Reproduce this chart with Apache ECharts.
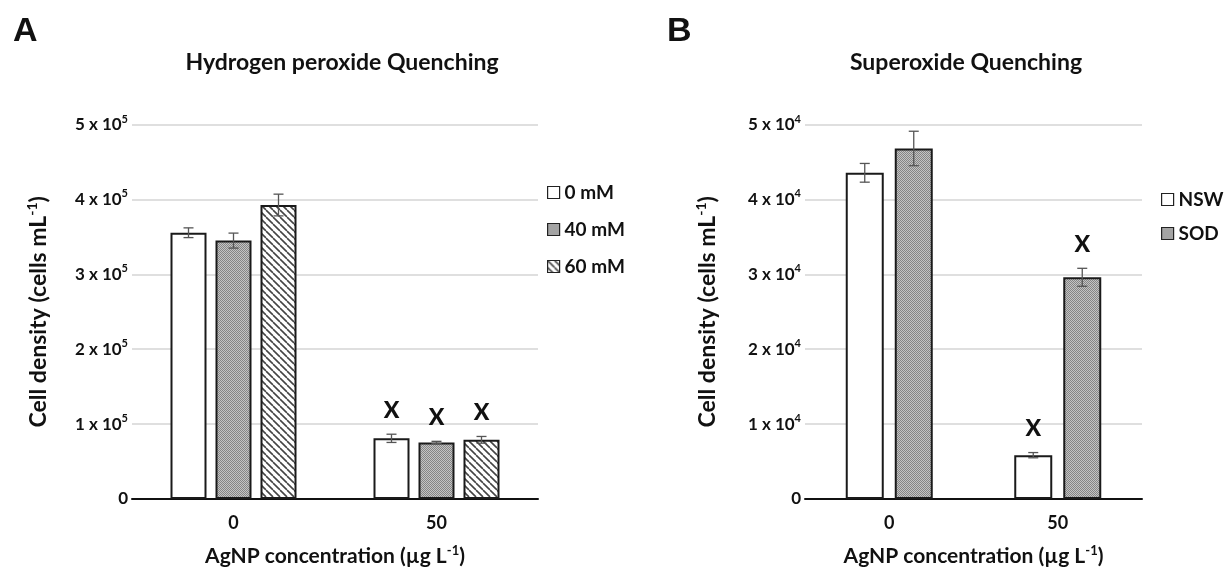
<!DOCTYPE html>
<html><head><meta charset="utf-8">
<script src="https://cdn.jsdelivr.net/npm/echarts@6/dist/echarts.min.js"></script>
<style>html,body{margin:0;padding:0;background:#fff}#c{width:1228px;height:577px}</style>
</head><body><div id="c"></div>
<script>
// ---- Data ----
const categories = ['0', '50'];
// Panel A: hydrogen peroxide quenching (cells mL-1)
const seriesA = ['0 mM', '40 mM', '60 mM'];
const h2o2_0mM = [3.555e5, 0.81e5];
const h2o2_40mM = [3.45e5, 0.755e5];
const h2o2_60mM = [3.925e5, 0.79e5];
const h2o2_0mM_err = [0.065e5, 0.055e5];
const h2o2_40mM_err = [0.10e5, 0.015e5];
const h2o2_60mM_err = [0.145e5, 0.045e5];
const h2o2_0mM_sig = ['', 'X'];
const h2o2_40mM_sig = ['', 'X'];
const h2o2_60mM_sig = ['', 'X'];
// Panel B: superoxide quenching (cells mL-1)
const seriesB = ['NSW', 'SOD'];
const nsw = [4.355e4, 0.585e4];
const sod = [4.68e4, 2.96e4];
const nsw_err = [0.125e4, 0.035e4];
const sod_err = [0.23e4, 0.12e4];
const nsw_sig = ['', 'X'];
const sod_sig = ['', 'X'];
const yTicksA = [0, 1e5, 2e5, 3e5, 4e5, 5e5];
const yTicksB = [0, 1e4, 2e4, 3e4, 4e4, 5e4];

// ---- Patterns ----
function dotPattern() {
  const c = document.createElement('canvas'); c.width = 2; c.height = 2;
  const g = c.getContext('2d');
  g.fillStyle = '#c4c4c4'; g.fillRect(0, 0, 2, 2);
  g.fillStyle = '#858585'; g.fillRect(0, 0, 1, 1); g.fillRect(1, 1, 1, 1);
  return { image: c, repeat: 'repeat' };
}
function hatchPattern() {
  const s = 7;
  const c = document.createElement('canvas'); c.width = s; c.height = s;
  const g = c.getContext('2d');
  g.fillStyle = '#ffffff'; g.fillRect(0, 0, s, s);
  g.strokeStyle = '#444'; g.lineWidth = 1.6;
  for (let k = -1; k <= 1; k++) {
    g.beginPath(); g.moveTo(k * s, 0); g.lineTo(k * s + s, s); g.stroke();
  }
  return { image: c, repeat: 'repeat' };
}
const FONT = 'Lato';
const fills = { white: '#ffffff', dot: dotPattern(), hatch: hatchPattern() };

function yFmt(exp) {
  return function (v) { return v === 0 ? '{a|0}' : '{a|' + Math.round(v / Math.pow(10, exp)) + ' x 10}{s|' + exp + '}'; };
}
const tickRich = {
  a: { fontFamily: FONT, fontWeight: 'bold', fontSize: 17, color: '#111', lineHeight: 22 },
  s: { fontFamily: FONT, fontWeight: 'bold', fontSize: 11, color: '#111', verticalAlign: 'top', lineHeight: 12, padding: [0, 0, 7, 0] }
};
const xNameRich = {
  a: { fontFamily: FONT, fontWeight: 'bold', fontSize: 21, color: '#111', lineHeight: 25 },
  s: { fontFamily: FONT, fontWeight: 'bold', fontSize: 13, color: '#111', verticalAlign: 'top', lineHeight: 14, padding: [0, 0, 9, 0] }
};
const yNameRich = {
  a: { fontFamily: FONT, fontWeight: 'bold', fontSize: 23, color: '#111', lineHeight: 27 },
  s: { fontFamily: FONT, fontWeight: 'bold', fontSize: 14, color: '#111', verticalAlign: 'top', lineHeight: 15, padding: [0, 0, 10, 0] }
};

function mkGrid(left, right) { return { left: left, right: right, top: 124.5, bottom: 78 }; }
function mkX(gi) {
  return {
    type: 'category', gridIndex: gi, data: categories,
    axisLine: { lineStyle: { color: '#111', width: 2 } }, axisTick: { show: false },
    axisLabel: { fontFamily: FONT, fontWeight: 'bold', fontSize: 18, color: '#111', margin: 15 },
    name: '{a|AgNP concentration (µg L}{s|-1}{a|)}', nameLocation: 'middle', nameGap: 45,
    nameTextStyle: { rich: xNameRich }
  };
}
function mkY(gi, exp, ticks, gap) {
  return {
    type: 'value', gridIndex: gi, min: ticks[0], max: ticks[ticks.length - 1], interval: ticks[1] - ticks[0],
    axisLine: { show: false }, axisTick: { show: false },
    splitLine: { lineStyle: { color: '#d4d4d4', width: 1.5 } },
    axisLabel: { formatter: yFmt(exp), rich: tickRich, margin: 4 },
    name: '{a|Cell density (cells mL}{s|-1}{a|)}', nameLocation: 'middle', nameGap: gap, nameRotate: 90,
    nameTextStyle: { rich: yNameRich }
  };
}

function barSeries(name, data, fill, gi, barWidth, barGap) {
  return {
    type: 'bar', name: name, data: data, xAxisIndex: gi, yAxisIndex: gi,
    barWidth: barWidth, barGap: barGap,
    itemStyle: { color: fill, borderColor: '#1a1a1a', borderWidth: 2 },
    emphasis: { disabled: true }, z: 2
  };
}
function errSeries(vals, errs, sigs, gi, idx, n, barWidth, gapPx) {
  const d = vals.map((v, i) => [i, v, errs[i], sigs[i]]);
  return {
    type: 'custom', xAxisIndex: gi, yAxisIndex: gi, data: d, z: 5, silent: true,
    renderItem: function (params, api) {
      const ci = api.value(0), v = api.value(1), e = api.value(2);
      const base = api.coord([ci, v]);
      const x = base[0] + (idx - (n - 1) / 2) * (barWidth + gapPx);
      const top = api.coord([ci, v + e])[1], bot = api.coord([ci, v - e])[1];
      const st = { stroke: '#555', lineWidth: 1.3 };
      const cw = 5;
      const children = [
        { type: 'line', shape: { x1: x, y1: top, x2: x, y2: bot }, style: st },
        { type: 'line', shape: { x1: x - cw, y1: top, x2: x + cw, y2: top }, style: st },
        { type: 'line', shape: { x1: x - cw, y1: bot, x2: x + cw, y2: bot }, style: st }
      ];
      const sig = d[params.dataIndex][3];
      if (sig) children.push({ type: 'text', style: { text: sig, x: x, y: top - 24, align: 'center', verticalAlign: 'middle', fontFamily: FONT, fontWeight: 900, fontSize: 23, fill: '#111' } });
      return { type: 'group', children: children };
    }
  };
}

const chart = echarts.init(document.getElementById('c'), null, { renderer: 'canvas' });
const wA = 36, gA = 9, wB = 38, gB = 11;
chart.setOption({
  backgroundColor: '#fff',
  animation: false,
  title: [
    { text: 'A', left: 8, top: 10, textStyle: { fontFamily: 'Liberation Sans', fontWeight: 'bold', fontSize: 34, color: '#111' } },
    { text: 'B', left: 662, top: 10, textStyle: { fontFamily: 'Liberation Sans', fontWeight: 'bold', fontSize: 34, color: '#111' } },
    { text: 'Hydrogen peroxide Quenching', left: 337, textAlign: 'center', top: 46, textStyle: { fontFamily: FONT, fontWeight: 'bold', fontSize: 23, color: '#111' } },
    { text: 'Superoxide Quenching', left: 961, textAlign: 'center', top: 46, textStyle: { fontFamily: FONT, fontWeight: 'bold', fontSize: 23, color: '#111' } }
  ],
  legend: [
    { data: seriesA, orient: 'vertical', left: 542, top: 178, itemWidth: 12, itemHeight: 12, itemGap: 18, icon: 'rect',
      itemStyle: { borderWidth: 1.2, borderColor: '#222' },
      textStyle: { fontFamily: FONT, fontWeight: 'bold', fontSize: 19, color: '#111' } },
    { data: seriesB, orient: 'vertical', left: 1156, top: 185, itemWidth: 12, itemHeight: 12, itemGap: 15, icon: 'rect',
      itemStyle: { borderWidth: 1.2, borderColor: '#222' },
      textStyle: { fontFamily: FONT, fontWeight: 'bold', fontSize: 19, color: '#111' } }
  ],
  grid: [mkGrid(132, 690), mkGrid(805, 86)],
  xAxis: [mkX(0), mkX(1)],
  yAxis: [mkY(0, 5, yTicksA, 80), mkY(1, 4, yTicksB, 84)],
  series: [
    barSeries(seriesA[0], h2o2_0mM, fills.white, 0, wA, (gA / wA * 100) + '%'),
    barSeries(seriesA[1], h2o2_40mM, fills.dot, 0, wA, (gA / wA * 100) + '%'),
    barSeries(seriesA[2], h2o2_60mM, fills.hatch, 0, wA, (gA / wA * 100) + '%'),
    barSeries(seriesB[0], nsw, fills.white, 1, wB, (gB / wB * 100) + '%'),
    barSeries(seriesB[1], sod, fills.dot, 1, wB, (gB / wB * 100) + '%'),
    errSeries(h2o2_0mM, h2o2_0mM_err, h2o2_0mM_sig, 0, 0, 3, wA, gA),
    errSeries(h2o2_40mM, h2o2_40mM_err, h2o2_40mM_sig, 0, 1, 3, wA, gA),
    errSeries(h2o2_60mM, h2o2_60mM_err, h2o2_60mM_sig, 0, 2, 3, wA, gA),
    errSeries(nsw, nsw_err, nsw_sig, 1, 0, 2, wB, gB),
    errSeries(sod, sod_err, sod_sig, 1, 1, 2, wB, gB)
  ]
});
</script></body></html>
